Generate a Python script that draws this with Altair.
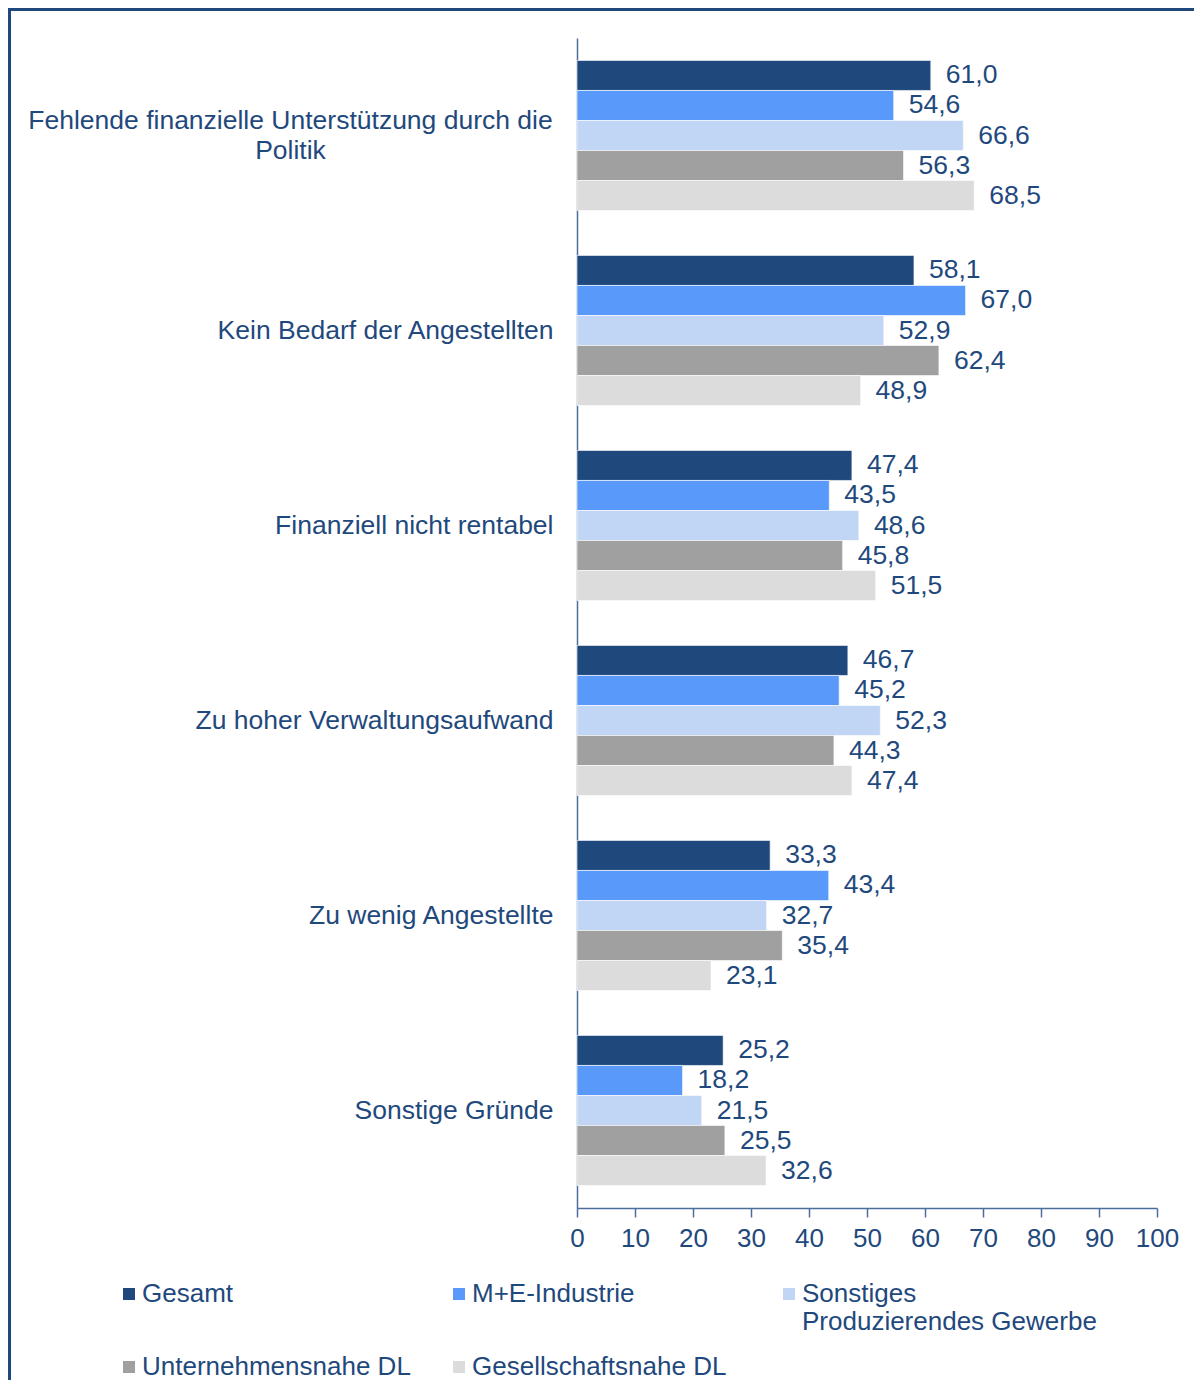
import altair as alt
import pandas as pd

categories = [
    "Fehlende finanzielle Unterstützung durch die Politik",
    "Kein Bedarf der Angestellten",
    "Finanziell nicht rentabel",
    "Zu hoher Verwaltungsaufwand",
    "Zu wenig Angestellte",
    "Sonstige Gründe",
]
series = [
    "Gesamt",
    "M+E-Industrie",
    "Sonstiges Produzierendes Gewerbe",
    "Unternehmensnahe DL",
    "Gesellschaftsnahe DL",
]
colors = ["#1F497D", "#5899F9", "#C1D5F4", "#A0A0A0", "#DCDCDC"]

gesamt = [61.0, 58.1, 47.4, 46.7, 33.3, 25.2]
me_industrie = [54.6, 67.0, 43.5, 45.2, 43.4, 18.2]
sonst_prod = [66.6, 52.9, 48.6, 52.3, 32.7, 21.5]
unternehmensnah = [56.3, 62.4, 45.8, 44.3, 35.4, 25.5]
gesellschaftsnah = [68.5, 48.9, 51.5, 47.4, 23.1, 32.6]

x_ticks = [0, 10, 20, 30, 40, 50, 60, 70, 80, 90, 100]

values_by_series = [gesamt, me_industrie, sonst_prod, unternehmensnah, gesellschaftsnah]
rows = []
for s, vals in zip(series, values_by_series):
    for c, v in zip(categories, vals):
        rows.append({"Kategorie": c, "Gruppe": s, "Wert": v,
                     "Label": f"{v:.1f}".replace(".", ",")})
df = pd.DataFrame(rows)

TEXT = "#1F497D"
AXIS = "#4A6D9C"
FONT = "Liberation Sans"
FS = 26.5

first_test = "datum.value == 'Fehlende finanzielle Unterstützung durch die Politik'"
label_expr = (
    first_test + " ? ['Fehlende finanzielle Unterstützung durch die', 'Politik'] : datum.value"
)
legend_expr = (
    "datum.value == 'Sonstiges Produzierendes Gewerbe' ? "
    "['Sonstiges', 'Produzierendes Gewerbe'] : [datum.value, '']"
)

y_enc = alt.Y(
    "Kategorie:N", sort=categories, title=None,
    scale=alt.Scale(paddingInner=0.23, paddingOuter=0.115),
    axis=alt.Axis(
        labelExpr=label_expr, ticks=False,
        labelPadding={"condition": {"test": first_test, "value": 287}, "value": 24},
        labelAlign={"condition": {"test": first_test, "value": "center"}, "value": "right"},
        labelOffset={"condition": {"test": first_test, "value": -15}, "value": 0},
        labelFont=FONT, labelFontSize=FS, labelColor=TEXT,
        labelLineHeight=30, labelLimit=800, domainColor=AXIS,
        domainWidth=1.5, grid=False),
)
x_enc = alt.X(
    "Wert:Q", title=None, scale=alt.Scale(domain=[0, 100], nice=False),
    axis=alt.Axis(values=x_ticks, tickSize=9, tickColor=AXIS, domainColor=AXIS,
                  domainWidth=1.5, tickWidth=1.5, labelFont=FONT, labelFontSize=26,
                  labelColor=TEXT, labelPadding=8, grid=False, labelFlush=False),
)
yoff = alt.YOffset("Gruppe:N", sort=series,
                   scale=alt.Scale(paddingInner=0, paddingOuter=0))

bars = alt.Chart(df).mark_bar(stroke="white", strokeWidth=0.6).encode(
    x=x_enc, y=y_enc, yOffset=yoff,
    color=alt.Color(
        "Gruppe:N", sort=series,
        scale=alt.Scale(domain=series, range=colors),
        legend=alt.Legend(
            title=None, orient="none", legendX=-461, legendY=1243,
            direction="horizontal", columns=3, gridAlign="all",
            columnPadding=9, rowPadding=19,
            symbolType="square", symbolSize=144, symbolStrokeWidth=0,
            labelOffset=0, labelFont=FONT, labelFontSize=26, labelColor=TEXT,
            labelLimit=600, labelExpr=legend_expr, padding=0,
        ),
    ),
)

labels = alt.Chart(df).mark_text(
    align="left", baseline="middle", dx=15, font=FONT, fontSize=FS, color=TEXT
).encode(x="Wert:Q", y=alt.Y("Kategorie:N", sort=categories), yOffset=yoff, text="Label:N")

frame_df = pd.DataFrame({"f": [0]})
frame_left = alt.Chart(frame_df).mark_rule(color="#1F497D", strokeWidth=3).encode(
    x=alt.value(-567.5), y=alt.value(-30), y2=alt.value(2000))
frame_top = alt.Chart(frame_df).mark_rule(color="#1F497D", strokeWidth=3).encode(
    x=alt.value(-569), x2=alt.value(2000), y=alt.value(-28.5))

chart = alt.layer(bars, labels, frame_left, frame_top).properties(
    width=580, height=1170,
    background="white",
    autosize=alt.AutoSizeParams(type="none"),
    padding={"left": 569, "top": 30, "right": 37, "bottom": 172},
).configure_view(stroke=None)

chart.save("out.html", embed_options={"renderer": "svg", "actions": False})
